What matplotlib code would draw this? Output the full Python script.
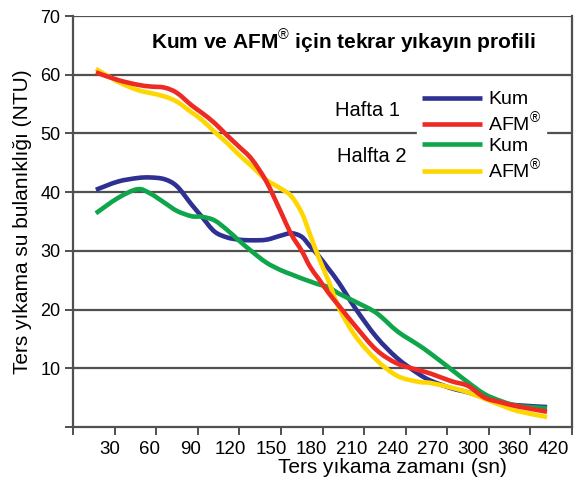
import matplotlib
matplotlib.use('Agg')
import matplotlib.pyplot as plt
import matplotlib.transforms as mtransforms
from matplotlib.lines import Line2D
from matplotlib.path import Path
from matplotlib.patches import PathPatch

plt.rcParams['font.family'] = ['Liberation Sans', 'DejaVu Sans']
plt.rcParams['mathtext.fontset'] = 'custom'
plt.rcParams['mathtext.rm'] = 'Liberation Sans'

# category positions on the x axis (0 = origin, 1 = "30", ..., 12 = "420")
x_pos = [0.55, 1.08, 1.55, 1.85, 2.2, 2.5, 2.85, 3.1, 3.4, 3.7, 4.0, 4.3, 4.65,
         5.0, 5.25, 5.5, 5.7, 5.9, 6.15, 6.4, 6.8, 7.3, 7.8, 8.3, 8.6, 9.1,
         9.5, 9.9, 10.3, 10.7, 11.4]

hafta1_kum = [40.4, 41.8, 42.4, 42.5, 42.2, 41.0, 37.9, 35.8, 33.3, 32.3, 31.9,
              31.8, 31.9, 32.6, 33.0, 32.4, 30.8, 29.2, 26.9, 24.5, 20.1, 15.3,
              11.7, 9.1, 7.9, 6.6, 5.9, 5.0, 4.1, 3.7, 3.4]
hafta1_afm = [60.4, 59.1, 58.3, 58.0, 57.8, 56.9, 54.8, 53.5, 51.8, 49.7, 47.7,
              45.6, 41.8, 36.6, 32.8, 30.0, 27.3, 25.3, 22.8, 20.6, 17.1, 13.1,
              10.8, 9.7, 9.1, 7.8, 7.0, 5.0, 4.2, 3.5, 2.6]
hafta2_kum = [36.4, 39.0, 40.5, 39.8, 38.2, 36.8, 35.9, 35.8, 35.2, 33.6, 31.7,
              29.9, 28.0, 26.7, 26.0, 25.3, 24.8, 24.3, 23.8, 22.7, 21.3, 19.4,
              16.3, 14.0, 12.5, 9.8, 7.6, 5.6, 4.4, 3.6, 3.2]
hafta2_afm = [61.0, 58.8, 57.4, 56.9, 56.3, 55.4, 53.6, 52.3, 50.3, 48.4, 46.3,
              44.4, 42.1, 40.6, 39.3, 36.5, 32.8, 29.0, 24.8, 20.2, 15.4, 11.4,
              8.7, 7.7, 7.5, 6.7, 5.9, 4.8, 3.7, 2.7, 1.7]

tick_labels = ['', '30', '60', '90', '120', '150', '180', '210', '240', '270',
               '300', '360', '420']
y_ticks = [0, 10, 20, 30, 40, 50, 60, 70]

c_blue = '#2E3192'
c_red = '#EE2A24'
c_green = '#0FA64B'
c_yellow = '#FFD700'
c_grid = '#505050'


def smooth_path(xs, ys):
    # Catmull-Rom style bezier through the points (like Excel smoothed lines)
    pts = list(zip(xs, ys))
    verts = [pts[0]]
    codes = [Path.MOVETO]
    n = len(pts)
    for i in range(n - 1):
        p0 = pts[i - 1] if i > 0 else pts[i]
        p1 = pts[i]
        p2 = pts[i + 1]
        p3 = pts[i + 2] if i + 2 < n else pts[i + 1]
        c1 = (p1[0] + (p2[0] - p0[0]) / 6, p1[1] + (p2[1] - p0[1]) / 6)
        c2 = (p2[0] - (p3[0] - p1[0]) / 6, p2[1] - (p3[1] - p1[1]) / 6)
        verts += [c1, c2, p2]
        codes += [Path.CURVE4] * 3
    return Path(verts, codes)


fig = plt.figure(figsize=(5.79, 4.86), dpi=100)
ax = fig.add_axes([73/579, 59/486, 499/579, 411/486])

lw = 3.3
series = [(hafta1_kum, c_blue, 3), (hafta2_kum, c_green, 4),
          (hafta2_afm, c_yellow, 4.5), (hafta1_afm, c_red, 5)]
for ys, c, z in series:
    ax.add_patch(PathPatch(smooth_path(x_pos, ys), facecolor='none',
                           edgecolor=c, lw=lw, capstyle='butt',
                           joinstyle='round', zorder=z))

ax.set_xlim(0, 12)
ax.set_ylim(0, 70)
ax.set_xticks(range(len(tick_labels)))
ax.set_xticklabels(tick_labels)
ax.set_yticks(y_ticks)
ax.set_yticklabels(['' if v == 0 else str(v) for v in y_ticks])

for v in y_ticks[1:]:
    ax.axhline(v, color=c_grid, lw=1.6, zorder=1)

for s in ax.spines.values():
    s.set_color(c_grid)
    s.set_linewidth(1.6)
ax.spines['top'].set_visible(False)

ax.tick_params(axis='both', direction='out', length=6, width=1.4, color=c_grid)
ax.tick_params(axis='x', pad=4, labelsize=13.5)
ax.tick_params(axis='y', pad=3, labelsize=13)
for lab in ax.get_xticklabels() + ax.get_yticklabels():
    lab.set_family(['Liberation Sans Narrow', 'Liberation Sans', 'DejaVu Sans'])
# the category labels drift slightly left of their tick marks
for k, lab in enumerate(ax.get_xticklabels()):
    shift_px = -(5 + 1.2 * max(k - 1, 0))
    off = mtransforms.ScaledTranslation(shift_px / 100, 0, fig.dpi_scale_trans)
    lab.set_transform(lab.get_transform() + off)

handles = [Line2D([], [], color=c, lw=lw, solid_capstyle='butt')
           for c in (c_blue, c_red, c_green, c_yellow)]
labels = ['Kum', 'AFM$^{®}$', 'Kum', 'AFM$^{®}$']
leg = ax.legend(handles, labels, loc='upper left', bbox_to_anchor=(0.69, 0.83),
                borderaxespad=0, borderpad=0.25, frameon=True, fancybox=False,
                edgecolor='white', facecolor='white', framealpha=1,
                fontsize=14, handlelength=3.1, handletextpad=0.3,
                labelspacing=0.12)
leg.set_zorder(6)

ax.text(0.591, 0.771, 'Hafta 1', transform=ax.transAxes, fontsize=14.5,
        ha='center', va='center', zorder=7)
ax.text(0.599, 0.657, 'Halfta 2', transform=ax.transAxes, fontsize=14.5,
        ha='center', va='center', zorder=7)

fig.text(343/579, 1 - 41/486, 'Kum ve AFM$^{®}$ için tekrar yıkayın profili',
         fontsize=15, fontweight='bold', ha='center', va='center')
fig.text(392/579, 1 - 467/486, 'Ters yıkama zamanı (sn)', fontsize=15,
         ha='center', va='center')
fig.text(23/579, 1 - 222/486, 'Ters yıkama su bulanıklığı (NTU)', fontsize=15,
         rotation=90, ha='center', va='center')

fig.savefig('out.png', dpi=100)
